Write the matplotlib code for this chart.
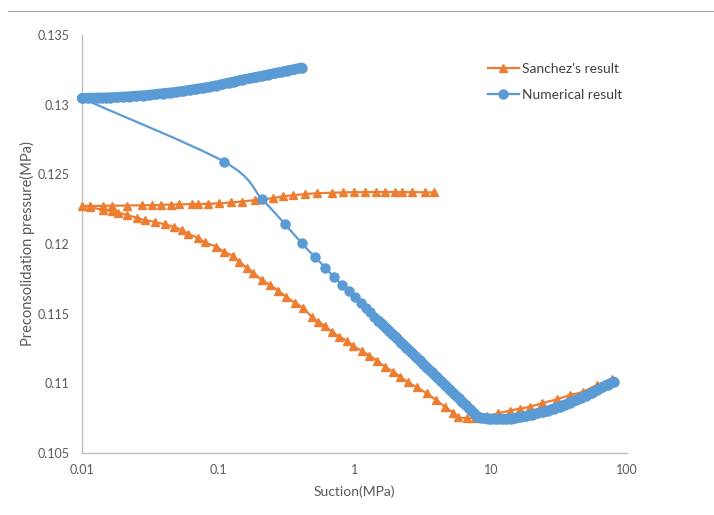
import numpy as np
import matplotlib.pyplot as plt
from matplotlib.path import Path
from matplotlib.patches import PathPatch
from matplotlib.lines import Line2D

plt.rcParams['font.family'] = ['Lato', 'DejaVu Sans']

# Sanchez's result - upper branch (0.01 -> 4 MPa)
sanchez_upper_x = [0.0100, 0.0115, 0.0142, 0.0165, 0.0213, 0.0274, 0.0325, 0.0380, 0.0450,
                   0.0518, 0.0638, 0.0714, 0.0845, 0.101, 0.124, 0.149, 0.186, 0.208, 0.254,
                   0.300, 0.356, 0.434, 0.529, 0.681, 0.828, 0.99, 1.19, 1.43, 1.68, 1.98,
                   2.22, 2.63, 3.29, 3.83]
sanchez_upper_y = [0.12273, 0.12273, 0.12274, 0.12275, 0.12276, 0.12278, 0.12279, 0.12281, 0.12283,
                   0.12284, 0.12286, 0.12287, 0.12289, 0.12292, 0.12298, 0.12305, 0.12315, 0.12320, 0.12330,
                   0.12342, 0.12350, 0.12358, 0.12364, 0.12368, 0.12370, 0.12372, 0.12372, 0.12373, 0.12373, 0.12373,
                   0.12373, 0.12372, 0.12371, 0.12370]

# Sanchez's result - lower branch (0.01 -> 80 MPa)
sanchez_lower_x = [0.01145, 0.01419, 0.01652, 0.01847, 0.02128, 0.02518, 0.02897, 0.03432, 0.04064,
                   0.04731, 0.05391, 0.0603, 0.07139, 0.07998, 0.09628, 0.1101, 0.1276, 0.1419, 0.1617,
                   0.1808, 0.2084, 0.2398, 0.276, 0.3142, 0.3657, 0.421, 0.485, 0.5425, 0.6072,
                   0.6803, 0.7732, 0.8761, 0.9797, 1.129, 1.284, 1.47, 1.674, 1.926, 2.158,
                   2.483, 2.86, 3.385, 3.963, 4.612, 5.308, 5.749, 6.657, 7.656, 9.38,
                   11.35, 13.83, 16.4, 19.42, 23.65, 30.48, 38.17, 47.57, 60.2, 77.2]
sanchez_lower_y = [0.12266, 0.12244, 0.12237, 0.12225, 0.12208, 0.12189, 0.12172, 0.12158, 0.12140,
                   0.12122, 0.12100, 0.12072, 0.12043, 0.12011, 0.11981, 0.11945, 0.11914, 0.11873, 0.11830,
                   0.11794, 0.11742, 0.11706, 0.11665, 0.11622, 0.11577, 0.11539, 0.11478, 0.11442, 0.11411,
                   0.11371, 0.11335, 0.11306, 0.11268, 0.11234, 0.11198, 0.11162, 0.11119, 0.11083, 0.11048,
                   0.11007, 0.10972, 0.10928, 0.10880, 0.10832, 0.10787, 0.10755, 0.10751, 0.10751, 0.10766,
                   0.10785, 0.10804, 0.10819, 0.10832, 0.10857, 0.10885, 0.10916, 0.10940, 0.10988, 0.11029]

# Numerical result - upper branch (0.01 -> 0.41 MPa)
num_upper_x = [0.010, 0.011, 0.012, 0.013, 0.014, 0.015, 0.016, 0.018, 0.020, 0.022, 0.025,
               0.028, 0.031, 0.035, 0.039, 0.044, 0.049, 0.055, 0.062, 0.069, 0.077, 0.086,
               0.096, 0.107, 0.12, 0.13, 0.15, 0.17, 0.19, 0.21, 0.23, 0.26, 0.29, 0.32,
               0.36, 0.41]
num_upper_y = [0.13046, 0.13047, 0.13048, 0.13049, 0.13049, 0.13050, 0.13051, 0.13053, 0.13056, 0.13058, 0.13062,
               0.13065, 0.13069, 0.13075, 0.13080, 0.13085, 0.13090, 0.13097, 0.13105, 0.13112, 0.13119, 0.13127,
               0.13136, 0.13146, 0.13157, 0.13164, 0.13178, 0.13188, 0.13198, 0.13206, 0.13214, 0.13225, 0.13234, 0.13243,
               0.13253, 0.13265]

# Numerical result - main path (0.11 -> 80 MPa)
num_main_x = [0.11, 0.21, 0.31, 0.41, 0.51, 0.61, 0.71, 0.81, 0.91, 1.01, 1.11, 1.21,
              1.3, 1.4, 1.5, 1.6, 1.7, 1.8, 1.9, 2.0, 2.2, 2.4, 2.6, 2.8, 3.0, 3.2, 3.4,
              3.7, 4.0, 4.3, 4.6, 5.0, 5.4, 5.8, 6.2, 6.6, 7.0, 7.5, 8.1,
              8.5, 9, 9.5, 10, 11, 12, 13, 14, 15, 16.5, 18, 20, 22, 24, 26.5, 29, 32,
              35, 38, 42, 46, 50, 55, 60, 66, 72, 80]
num_main_y = [0.12591, 0.12321, 0.12141, 0.12005, 0.11909, 0.11830, 0.11761, 0.11706, 0.11663, 0.11617, 0.11579, 0.11538,
              0.11509, 0.11478, 0.11450, 0.11423, 0.11398, 0.11375, 0.11353, 0.11332, 0.11292, 0.11257, 0.11224, 0.11193,
              0.11165, 0.11138, 0.11113, 0.11079, 0.11046, 0.11017, 0.10989, 0.10955, 0.10923, 0.10894, 0.10866, 0.10841,
              0.10816, 0.10788, 0.10756,
              0.10752, 0.10748, 0.10746, 0.10745, 0.10743, 0.10743, 0.10744, 0.10746, 0.10750, 0.10756, 0.10763,
              0.10774, 0.10785, 0.10794, 0.10805, 0.10818, 0.10832, 0.10846, 0.10860, 0.10878, 0.10895, 0.10911,
              0.10931, 0.10950, 0.10971, 0.10990, 0.11011]

x_ticks = [0.01, 0.1, 1, 10, 100]
x_tick_labels = ['0.01', '0.1', '1', '10', '100']
y_ticks = [0.105, 0.11, 0.115, 0.12, 0.125, 0.13, 0.135]
y_tick_labels = ['0.105', '0.11', '0.115', '0.12', '0.125', '0.13', '0.135']

ORANGE = '#ED7D31'
BLUE = '#5B9BD5'
TEXT = '#595959'
BLUE_MS = 6.5


def smooth_path(xs, ys):
    # excel style smoothed line: catmull-rom segments as cubic beziers (in log-x space)
    pts = np.column_stack([np.log10(xs), ys])
    n = len(pts)
    verts = [pts[0]]
    codes = [Path.MOVETO]
    for i in range(n - 1):
        p0 = pts[max(i - 1, 0)]
        p1 = pts[i]
        p2 = pts[i + 1]
        p3 = pts[min(i + 2, n - 1)]
        verts += [p1 + (p2 - p0) / 6, p2 - (p3 - p1) / 6, p2]
        codes += [Path.CURVE4] * 3
    verts = np.array(verts)
    verts[:, 0] = 10 ** verts[:, 0]
    return Path(verts, codes)


fig = plt.figure(figsize=(7.14, 5.15), dpi=100)
ax = fig.add_axes([82 / 714, 1 - 453 / 515, 545 / 714, 418 / 515])
ax.set_xscale('log')

# orange: upper branch walked backwards, then lower branch
s_x = sanchez_upper_x[::-1] + sanchez_lower_x
s_y = sanchez_upper_y[::-1] + sanchez_lower_y
ax.add_patch(PathPatch(smooth_path(s_x, s_y), fill=False, edgecolor=ORANGE, lw=1.6, zorder=2))
ax.plot(s_x, s_y, ls='none', marker='^', ms=6, color=ORANGE, mec=ORANGE, zorder=3, clip_on=False)

# blue: upper branch walked backwards, then main path
n_x = num_upper_x[::-1] + num_main_x
n_y = num_upper_y[::-1] + num_main_y
ax.add_patch(PathPatch(smooth_path(n_x, n_y), fill=False, edgecolor=BLUE, lw=1.6, zorder=4))
ax.plot(n_x, n_y, ls='none', marker='o', ms=BLUE_MS, color=BLUE, mec=BLUE, zorder=5, clip_on=False)
# where the markers crowd together they merge into one band
for bx, by in [(num_upper_x, num_upper_y), (num_main_x[14:], num_main_y[14:])]:
    ax.add_patch(PathPatch(smooth_path(bx, by), fill=False, edgecolor=BLUE, lw=BLUE_MS + 1,
                           capstyle='round', joinstyle='round', zorder=6, clip_on=False))

ax.set_xlim(0.01, 100)
ax.set_ylim(0.105, 0.135)
ax.set_xticks(x_ticks)
ax.set_xticklabels(x_tick_labels)
ax.set_yticks(y_ticks)
ax.set_yticklabels(y_tick_labels)
ax.minorticks_off()
ax.tick_params(length=0, labelsize=9, labelcolor=TEXT)
ax.tick_params(axis='y', pad=9)
ax.tick_params(axis='x', pad=8)
for side in ['top', 'right']:
    ax.spines[side].set_visible(False)
for side in ['left', 'bottom']:
    ax.spines[side].set_color('#bfbfbf')
    ax.spines[side].set_linewidth(1.0)

ax.set_xlabel('Suction(MPa)', fontsize=10, color=TEXT, labelpad=7)
ax.set_ylabel('Preconsolidation pressure(MPa)', fontsize=10.5, color=TEXT, labelpad=2)

handles = [Line2D([], [], color=ORANGE, lw=1.6, marker='^', ms=6),
           Line2D([], [], color=BLUE, lw=1.6, marker='o', ms=BLUE_MS)]
fig.legend(handles, ["Sanchez's result", 'Numerical result'], loc='center left',
           bbox_to_anchor=(488 / 714, 1 - 82 / 515), frameon=False, fontsize=10,
           labelcolor='#404040', handlelength=2.2, handletextpad=0.25,
           labelspacing=1.05, borderpad=0, borderaxespad=0)

# thin rule across the top of the picture
fig.add_artist(Line2D([8 / 714, 1], [1 - 11 / 515, 1 - 11 / 515], transform=fig.transFigure,
                      color='#a6a6a6', lw=0.8))

fig.savefig('out.png', dpi=100)
